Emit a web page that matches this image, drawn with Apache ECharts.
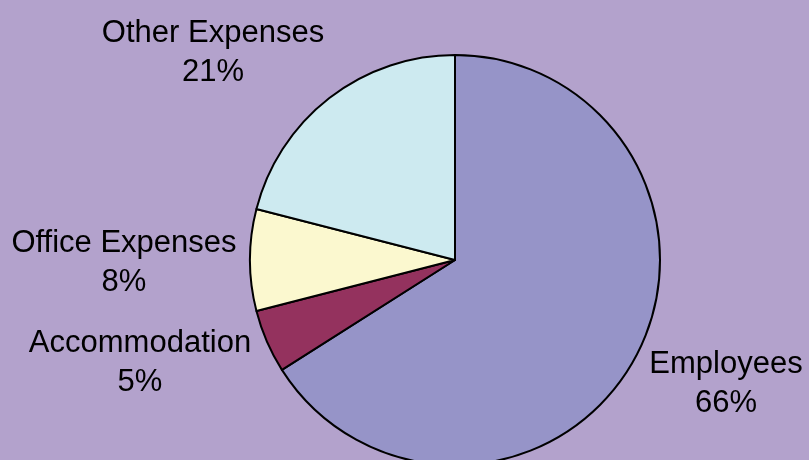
<!DOCTYPE html>
<html>
<head>
<meta charset="utf-8">
<style>
  html, body { margin: 0; padding: 0; background: #b3a2cc; }
  #chart { width: 809px; height: 460px; }
</style>
<script src="https://cdn.jsdelivr.net/npm/echarts@6/dist/echarts.min.js"></script>
</head>
<body>
<div id="chart"></div>
<script>
const categories = ['Employees', 'Accommodation', 'Office Expenses', 'Other Expenses'];
const shares = [66, 5, 8, 21];
const sliceColors = ['#9694c8', '#94325e', '#fbf8cf', '#cdeaf0'];

// label anchors (block centres), one per category
const labelSpots = [
  { x: 726, y: 384 },
  { x: 140, y: 363 },
  { x: 124, y: 263 },
  { x: 213, y: 53 }
];

const chart = echarts.init(document.getElementById('chart'), null, { renderer: 'canvas' });

chart.setOption({
  backgroundColor: '#b3a2cc',
  animation: false,
  series: [
    {
      type: 'pie',
      center: [455, 260],
      radius: 205,
      startAngle: 90,
      clockwise: true,
      data: categories.map((name, i) => ({
        name,
        value: shares[i],
        itemStyle: { color: sliceColors[i] }
      })),
      itemStyle: {
        borderColor: '#000',
        borderWidth: 2
      },
      label: {
        show: true,
        position: 'outside',
        formatter: (p) => `${p.name}\n${p.value}%`,
        color: '#000',
        fontFamily: 'Arial, "Liberation Sans", sans-serif',
        fontSize: 31,
        lineHeight: 39,
        align: 'center',
        overflow: 'none',
        width: 400
      },
      labelLine: { show: false },
      labelLayout: (params) => {
        const spot = labelSpots[params.dataIndex];
        return {
          x: spot.x,
          y: spot.y,
          align: 'center',
          verticalAlign: 'middle'
        };
      },
      emphasis: { disabled: true }
    }
  ]
});
</script>
</body>
</html>
